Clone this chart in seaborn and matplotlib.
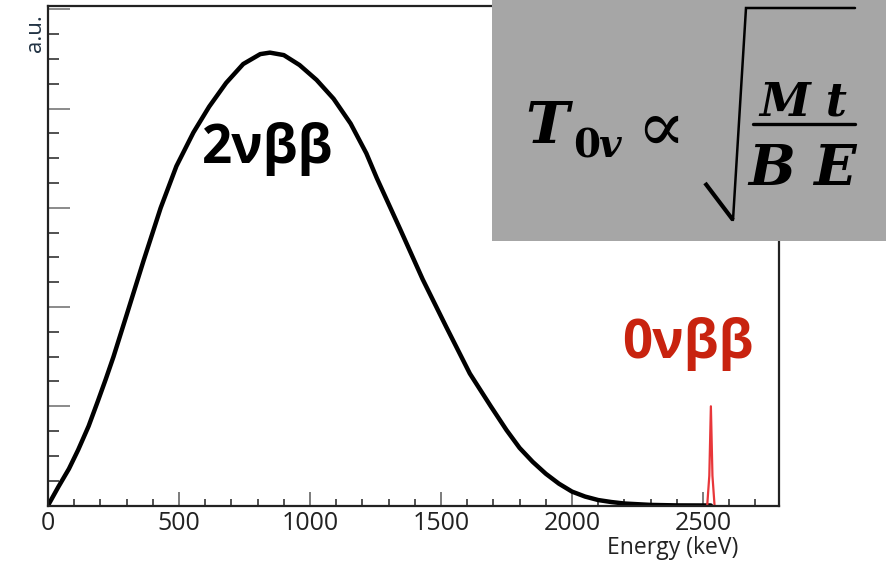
import numpy as np
import pandas as pd
import matplotlib
matplotlib.use("Agg")
import matplotlib.pyplot as plt
import seaborn as sns
from matplotlib.lines import Line2D
from matplotlib.patches import Rectangle
from matplotlib.ticker import MultipleLocator, FixedLocator

# ---- data ----
energy_2nu = [0, 40, 80, 115, 155, 190, 220, 250, 300, 365, 430, 490, 555, 615,
              680, 745, 810, 847, 900, 960, 1025, 1090, 1155, 1215, 1255, 1345,
              1430, 1520, 1610, 1690, 1750, 1800, 1850, 1900, 1950, 2000, 2050,
              2100, 2150, 2200, 2300, 2400, 2530]
counts_2nu = [0, 0.19, 0.37, 0.56, 0.8, 1.05, 1.27, 1.5, 1.92, 2.47, 3.0, 3.42,
              3.76, 4.02, 4.26, 4.45, 4.55, 4.565, 4.54, 4.44, 4.29, 4.10, 3.85,
              3.55, 3.3, 2.78, 2.28, 1.8, 1.33, 1.0, 0.76, 0.58, 0.44, 0.32,
              0.22, 0.14, 0.09, 0.055, 0.035, 0.02, 0.006, 0.001, 0]
energy_0nu = [2516, 2524, 2530, 2536, 2544]
counts_0nu = [0, 0.3, 1.0, 0.3, 0]

x_major = [0, 500, 1000, 1500, 2000, 2500]
x_ticklabels = ["0", "500", "1000", "1500", "2000", "2500"]

sns.set_style("ticks")
plt.rcParams['font.family'] = ['Open Sans', 'DejaVu Sans']

W, H = 887, 570
fig = plt.figure(figsize=(W / 100, H / 100), dpi=100)


def fx(px):
    return px / W


def fy(py):
    return 1 - py / H


ax = fig.add_axes([fx(48), fy(505.5), (779 - 48) / W, (505.5 - 6) / H])

df2 = pd.DataFrame({"E": energy_2nu, "y": counts_2nu})
df0 = pd.DataFrame({"E": energy_0nu, "y": counts_0nu})
sns.lineplot(data=df2, x="E", y="y", ax=ax, color="black", lw=3.2,
             estimator=None)
sns.lineplot(data=df0, x="E", y="y", ax=ax, color="#e8373a", lw=1.6,
             estimator=None)
for ln in ax.lines:
    ln.set_solid_joinstyle("round")

ax.set_xlim(0, 2790)
ax.set_ylim(0, 5.035)
ax.xaxis.set_major_locator(FixedLocator(x_major))
ax.set_xticklabels(x_ticklabels)
ax.xaxis.set_minor_locator(MultipleLocator(100))
ax.yaxis.set_major_locator(MultipleLocator(1))
ax.yaxis.set_minor_locator(MultipleLocator(0.25))
ax.set_yticklabels([])
ax.set_xlabel("")
ax.set_ylabel("")

ax.tick_params(axis="x", which="major", direction="in", length=10, width=1.2,
               color="#666666", labelsize=18, labelcolor="#222222", pad=4)
ax.tick_params(axis="x", which="minor", direction="in", length=5, width=1.2,
               color="#333333")
ax.tick_params(axis="y", which="major", direction="in", length=16, width=1.2,
               color="#777777")
ax.tick_params(axis="y", which="minor", direction="in", length=8, width=1.2,
               color="#333333")
for s in ax.spines.values():
    s.set_linewidth(1.6)
    s.set_color("#222222")

fig.text(fx(738), fy(548), "Energy (keV)", ha="right", va="center",
         fontsize=16.5, color="#222222")
fig.text(fx(35), fy(14), "a.u.", rotation=90, ha="center", va="top",
         fontsize=16, color="#223344")

fig.text(fx(202), fy(163), "2νββ", fontsize=38, fontweight="bold",
         color="black", ha="left", va="baseline")
fig.text(fx(622), fy(358), "0νββ", fontsize=38, fontweight="bold",
         color="#c8230f", ha="left", va="baseline")

# ---- grey formula box ----
fig.add_artist(Rectangle((fx(492), fy(241)), (W - 492) / W, 241 / H,
                         transform=fig.transFigure, facecolor="#a6a6a6",
                         edgecolor="none", zorder=5))
serif = ["DejaVu Serif", "DejaVu Sans"]
fig.text(fx(525), fy(143), "T", fontsize=42, fontweight="bold", style="italic",
         family=serif, ha="left", va="baseline", zorder=6, color="black")
fig.text(fx(573), fy(157), "0", fontsize=28, fontweight="bold",
         family=serif, ha="left", va="baseline", zorder=6, color="black")
fig.text(fx(598), fy(157), "v", fontsize=28, fontweight="bold", style="italic",
         family=serif, ha="left", va="baseline", zorder=6, color="black")
fig.text(fx(661), fy(131), "∝", fontsize=52, family=serif,
         ha="center", va="center", zorder=6, color="black")
fig.text(fx(803), fy(115), "M t", fontsize=33, fontweight="bold", style="italic",
         family=serif, ha="center", va="baseline", zorder=6, color="black")
fig.text(fx(803), fy(185), "B E", fontsize=40, fontweight="bold", style="italic",
         family=serif, ha="center", va="baseline", zorder=6, color="black")
fig.add_artist(Line2D([fx(753), fx(855)], [fy(124), fy(124)], color="black",
                      lw=2.4, transform=fig.transFigure, zorder=6))
fig.add_artist(Line2D([fx(705), fx(733)], [fy(183), fy(220)], color="black",
                      lw=3.0, transform=fig.transFigure, zorder=6,
                      solid_capstyle="butt"))
fig.add_artist(Line2D([fx(733), fx(746), fx(855)], [fy(220), fy(8), fy(8)],
                      color="black", lw=1.8, transform=fig.transFigure, zorder=6,
                      solid_joinstyle="miter"))

fig.savefig("out.png", dpi=100)
